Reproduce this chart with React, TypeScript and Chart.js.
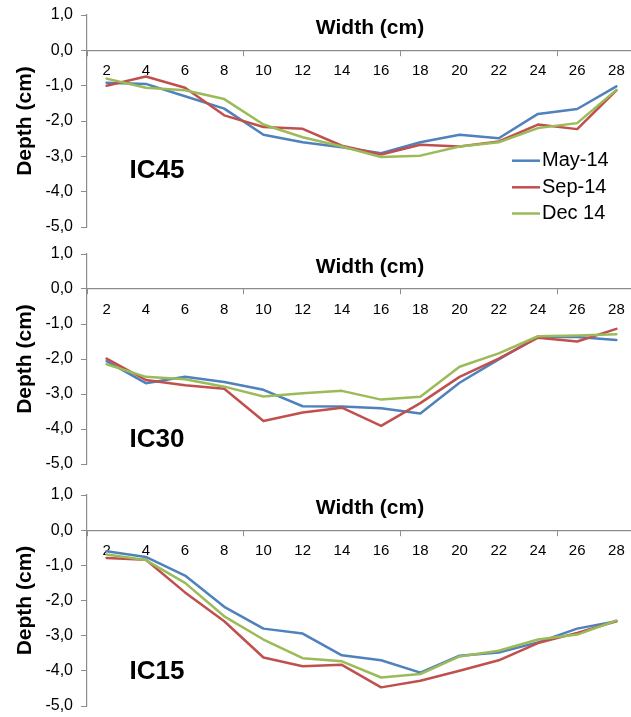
import React, { useEffect, useRef } from 'react';
import { Chart, registerables } from 'chart.js';

Chart.register(...registerables);

// ---------- data ----------
const widthLabels = ['2', '4', '6', '8', '10', '12', '14', '16', '18', '20', '22', '24', '26', '28'];
const seriesNames = ['May-14', 'Sep-14', 'Dec 14'];
const seriesColors = ['#4F81BD', '#C0504D', '#9BBB59'];
const yTickValues = [1, 0, -1, -2, -3, -4, -5];

const ic45May = [-0.92, -0.95, -1.30, -1.65, -2.39, -2.60, -2.74, -2.91, -2.60, -2.39, -2.49, -1.80, -1.66, -1.02];
const ic45Sep = [-1.00, -0.74, -1.06, -1.84, -2.17, -2.22, -2.70, -2.95, -2.67, -2.72, -2.58, -2.10, -2.23, -1.13];
const ic45Dec = [-0.80, -1.06, -1.13, -1.38, -2.10, -2.46, -2.72, -3.02, -2.98, -2.72, -2.60, -2.20, -2.06, -1.12];

const ic30May = [-2.06, -2.69, -2.51, -2.66, -2.88, -3.35, -3.36, -3.41, -3.56, -2.68, -2.01, -1.37, -1.37, -1.46];
const ic30Sep = [-1.99, -2.60, -2.75, -2.85, -3.77, -3.53, -3.39, -3.91, -3.26, -2.51, -1.99, -1.39, -1.50, -1.14];
const ic30Dec = [-2.15, -2.51, -2.58, -2.79, -3.07, -2.98, -2.91, -3.16, -3.08, -2.22, -1.84, -1.35, -1.33, -1.29];

const ic15May = [-0.60, -0.76, -1.29, -2.18, -2.80, -2.94, -3.56, -3.70, -4.05, -3.57, -3.48, -3.19, -2.80, -2.59];
const ic15Sep = [-0.79, -0.84, -1.77, -2.59, -3.62, -3.87, -3.83, -4.47, -4.28, -4.00, -3.70, -3.21, -2.92, -2.59];
const ic15Dec = [-0.69, -0.85, -1.50, -2.45, -3.11, -3.64, -3.73, -4.19, -4.09, -3.59, -3.43, -3.11, -2.97, -2.57];

const panelNames = ['IC45', 'IC30', 'IC15'];
const xTitle = 'Width (cm)';
const yTitle = 'Depth (cm)';

// ---------- layout config ----------
const FONT = '"Liberation Sans", Arial, sans-serif';
const AXIS_GRAY = '#8c8c8c';

type PanelCfg = {
  name: string;
  series: number[][];
  padTop: number;
  padBottom: number;
  labelDepth: number;
  showLegend: boolean;
};

const panels: PanelCfg[] = [
  { name: panelNames[0], series: [ic45May, ic45Sep, ic45Dec], padTop: 15, padBottom: 12, labelDepth: -3.4, showLegend: true },
  { name: panelNames[1], series: [ic30May, ic30Sep, ic30Dec], padTop: 15, padBottom: 14, labelDepth: -4.31, showLegend: false },
  { name: panelNames[2], series: [ic15May, ic15Sep, ic15Dec], padTop: 17, padBottom: 11, labelDepth: -4.03, showLegend: false },
];

const overlayPlugin = (cfg: PanelCfg) => ({
  id: 'overlay_' + cfg.name,
  afterDraw(chart: any) {
    const ctx = chart.ctx;
    const y = chart.scales.y;
    ctx.save();
    ctx.fillStyle = '#000';
    ctx.textBaseline = 'middle';
    // x axis title above the zero line
    ctx.font = 'bold 21px ' + FONT;
    ctx.textAlign = 'center';
    ctx.fillText(xTitle, 370, y.getPixelForValue(0) - 22);
    // panel label
    ctx.font = 'bold 26px ' + FONT;
    ctx.fillText(cfg.name, 157, y.getPixelForValue(cfg.labelDepth));
    // legend
    if (cfg.showLegend) {
      ctx.font = '20px ' + FONT;
      ctx.textAlign = 'left';
      const rows = [160.7, 187.3, 213.5];
      seriesNames.forEach((n, i) => {
        ctx.strokeStyle = seriesColors[i];
        ctx.lineWidth = 2.5;
        ctx.beginPath();
        ctx.moveTo(512, rows[i]);
        ctx.lineTo(540, rows[i]);
        ctx.stroke();
        ctx.fillText(n, 542, rows[i]);
      });
    }
    ctx.restore();
  },
});

function Panel({ cfg }: { cfg: PanelCfg }) {
  const ref = useRef<HTMLCanvasElement | null>(null);
  useEffect(() => {
    if (!ref.current) return;
    const chart = new Chart(ref.current, {
      type: 'line',
      data: {
        labels: widthLabels,
        datasets: cfg.series.map((d, i) => ({
          label: seriesNames[i],
          data: d,
          borderColor: seriesColors[i],
          backgroundColor: seriesColors[i],
          borderWidth: 2.5,
          pointRadius: 0,
          tension: 0,
          borderJoinStyle: 'round' as const,
          borderCapStyle: 'round' as const,
          order: 2 - i,
        })),
      },
      options: {
        responsive: false,
        animation: false,
        devicePixelRatio: 1,
        layout: { padding: { left: 0, right: 0, top: cfg.padTop, bottom: cfg.padBottom } },
        plugins: { legend: { display: false }, tooltip: { enabled: false }, title: { display: false } },
        scales: {
          x: {
            type: 'category',
            position: { y: 0 } as any,
            offset: true,
            grid: {
              offset: true,
              drawOnChartArea: false,
              drawTicks: true,
              tickLength: 5,
              color: (c: any) => (typeof c.index === 'number' && c.index % 4 === 0 ? AXIS_GRAY : 'rgba(0,0,0,0)'),
            },
            border: { display: true, color: AXIS_GRAY, width: 1.2 },
            ticks: {
              autoSkip: false,
              maxRotation: 0,
              padding: 7,
              color: '#000',
              font: { family: FONT, size: 15 },
            },
          },
          y: {
            type: 'linear',
            min: yTickValues[yTickValues.length - 1],
            max: yTickValues[0],
            afterFit: (s: any) => {
              s.width = 87;
              s.paddingTop = 4;
              s.paddingBottom = 4;
            },
            afterBuildTicks: (s: any) => { s.ticks = yTickValues.map((v) => ({ value: v })); },
            grid: { drawOnChartArea: false, drawTicks: true, tickLength: 6, color: AXIS_GRAY },
            border: { display: true, color: AXIS_GRAY, width: 1.2 },
            ticks: {
              padding: 8,
              color: '#000',
              font: { family: FONT, size: 16 },
              callback: (v: any) => Number(v).toFixed(1).replace('.', ','),
            },
            title: {
              display: true,
              text: yTitle,
              color: '#000',
              font: { family: FONT, size: 21, weight: 'bold' },
              padding: { top: 13, bottom: 0 },
            },
          },
        },
      },
      plugins: [overlayPlugin(cfg)],
    });
    return () => chart.destroy();
  }, [cfg]);
  return (
    <div style={{ width: 636, height: 239 }}>
      <canvas ref={ref} width={636} height={239} style={{ display: 'block', width: 636, height: 239 }} />
    </div>
  );
}

export default function App() {
  return (
    <div style={{ position: 'absolute', left: 0, top: 0, width: 631, height: 717, overflow: 'hidden', background: '#fff' }}>
      {panels.map((p) => (
        <Panel key={p.name} cfg={p} />
      ))}
    </div>
  );
}
